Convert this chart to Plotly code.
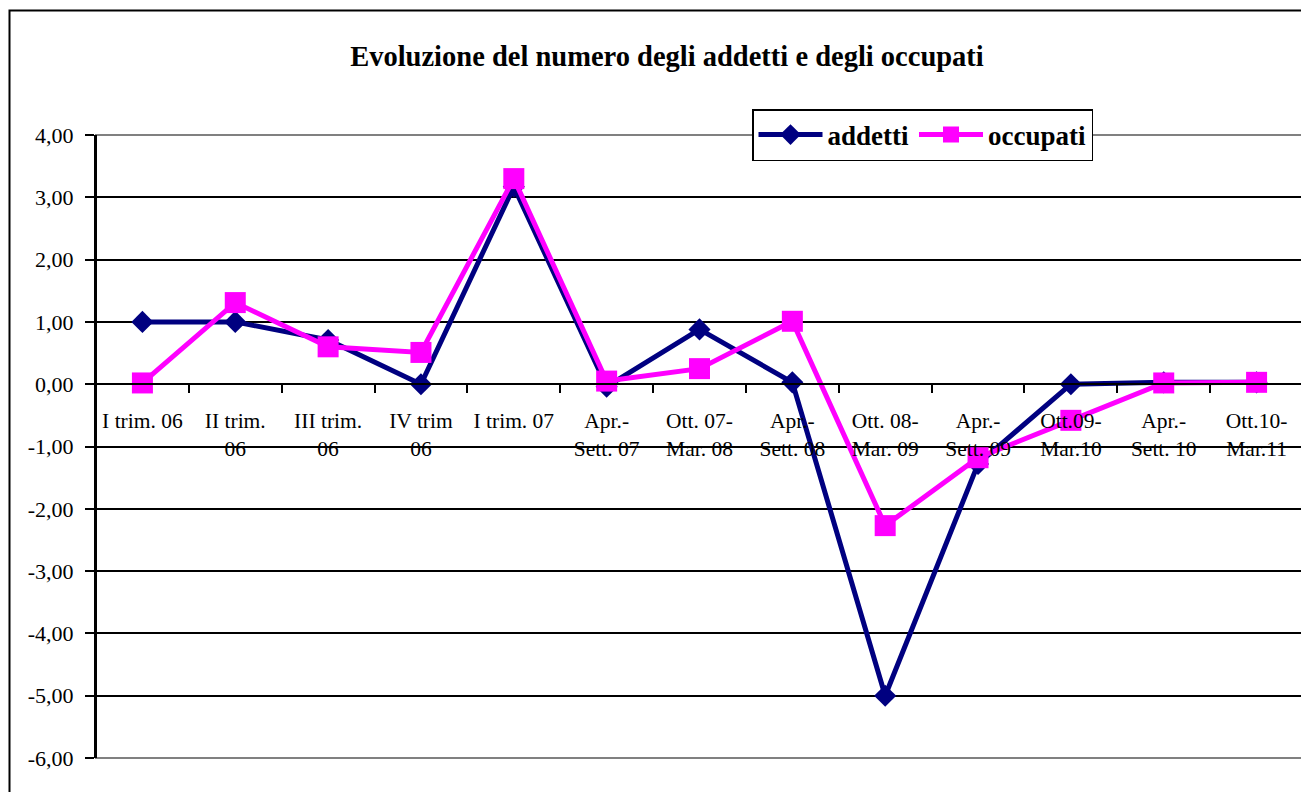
import plotly.graph_objects as go

categories = ["I trim. 06", "II trim.<br>06", "III trim.<br>06", "IV trim<br>06", "I trim. 07",
              "Apr.-<br>Sett. 07", "Ott. 07-<br>Mar. 08", "Apr.-<br>Sett. 08", "Ott. 08-<br>Mar. 09",
              "Apr.-<br>Sett. 09", "Ott.09-<br>Mar.10", "Apr.-<br>Sett. 10", "Ott.10-<br>Mar.11"]
addetti = [1.00, 1.00, 0.71, 0.00, 3.17, -0.04, 0.88, 0.03, -5.00, -1.28, 0.00, 0.03, 0.03]
occupati = [0.02, 1.31, 0.60, 0.51, 3.30, 0.05, 0.25, 1.01, -2.27, -1.18, -0.58, 0.02, 0.03]
y_ticks = [4, 3, 2, 1, 0, -1, -2, -3, -4, -5, -6]
y_ticktext = [f"{v:.2f}".replace(".", ",") for v in y_ticks]

FONT = "Liberation Serif, Times New Roman, serif"

fig = go.Figure()
fig.add_trace(go.Scatter(
    x=categories, y=addetti, name="addetti", mode="lines+markers",
    line=dict(color="#000080", width=5),
    marker=dict(symbol="diamond", size=17, color="#000080"),
))
fig.add_trace(go.Scatter(
    x=categories, y=occupati, name="occupati", mode="lines+markers",
    line=dict(color="#FF00FF", width=5),
    marker=dict(symbol="square", size=21, color="#FF00FF"),
))

# page has an 8px body margin; figure coords = page coords - 8
OFF = 8
W, H = 1309 - OFF, 792 - OFF
L, T = 96 - OFF, 135 - OFF
R = W - (1303 - OFF)
B = H - (758 - OFF)
pw, ph = W - L - R, H - T - B

fig.update_layout(
    width=W, height=H,
    margin=dict(l=L, r=R, t=T, b=B, autoexpand=False),
    paper_bgcolor="white", plot_bgcolor="white",
    font=dict(family=FONT, size=21.5, color="black"),
    title=dict(text="<b>Evoluzione del numero degli addetti e degli occupati</b>",
               x=(667 - OFF) / W, xref="container", xanchor="center",
               y=1 - (56 - OFF) / H, yref="container", yanchor="middle",
               font=dict(family=FONT, size=28.5, color="black")),
    legend=dict(orientation="h", x=(752 - OFF - L) / pw, xanchor="left",
                y=1 + (T - (109 - OFF)) / ph, yanchor="top",
                bgcolor="white", bordercolor="black", borderwidth=1.5,
                font=dict(family=FONT, size=27, color="black", weight="bold"),
                itemwidth=64, tracegroupgap=0),
    showlegend=True,
    xaxis=dict(type="category", anchor="free", position=0.6, range=[-0.5, len(categories) - 0.5],
               showgrid=False, showline=True, linecolor="black", linewidth=2,
               ticks="outside", tickson="boundaries", ticklen=8, tickcolor="black", tickwidth=1.5,
               tickfont=dict(family=FONT, size=21.5, color="black"), tickangle=0,
               ticklabelstandoff=17, zeroline=False),
    yaxis=dict(range=[-6, 4], tickvals=y_ticks, ticktext=y_ticktext,
               showgrid=True, gridcolor="black", gridwidth=1.5,
               zeroline=True, zerolinecolor="black", zerolinewidth=2,
               showline=True, linecolor="black", linewidth=2,
               ticks="outside", ticklen=9, tickcolor="black", tickwidth=1.5,
               tickfont=dict(family=FONT, size=22, color="black"),
               ticklabelstandoff=7),
    shapes=[
        dict(type="rect", xref="paper", yref="paper", x0=0, x1=1, y0=0, y1=1,
             line=dict(color="#808080", width=2), layer="above"),
        dict(type="line", xref="paper", yref="paper", x0=0, x1=0, y0=0, y1=1,
             line=dict(color="black", width=2), layer="above"),
        dict(type="rect", xref="paper", yref="paper",
             x0=(9.5 - OFF - L) / pw, x1=1.1, y0=-0.2, y1=(H - B - (10.5 - OFF)) / ph,
             line=dict(color="black", width=2), layer="above"),
    ],
)

fig.write_html("out.html")
